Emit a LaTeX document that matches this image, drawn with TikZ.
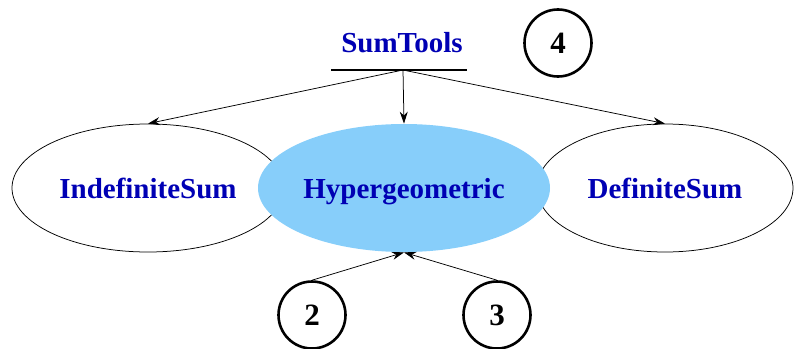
\documentclass[tikz,border=0pt]{standalone}
\usepackage{fontspec}
\setmainfont{Liberation Serif}
\usetikzlibrary{arrows.meta,shapes.geometric}

\definecolor{pkgblue}{RGB}{0,0,180}
\definecolor{hypfill}{RGB}{135,206,250}

\tikzset{every picture/.style={line width=0.75pt}}
\tikzset{
  pkg/.style={ellipse,inner sep=0pt,minimum height=128pt,text height=20pt,text depth=0pt,text=pkgblue,font=\fontsize{29}{34}\selectfont\bfseries},
  num/.style={circle,draw,line width=2.6pt,inner sep=0pt,minimum size=67pt,font=\fontsize{31}{36}\selectfont\bfseries},
  dep/.style={-{Stealth[length=12pt,width=8pt]}}
}

\begin{document}
\begin{tikzpicture}[x=1pt,y=1pt,yscale=-1,xscale=1]
\useasboundingbox (0,0) rectangle (795,348);

%Shape: Ellipse left
\node [pkg,draw,minimum width=272pt] (indef) at (148,188) {IndefiniteSum};
%Shape: Ellipse right
\node [pkg,draw,minimum width=256pt] (defsum) at (665,188) {DefiniteSum};
%Shape: Ellipse middle
\node [pkg,fill=hypfill,minimum width=292pt] (hyper) at (404,188) {Hypergeometric};

% Text Node
\node [text=pkgblue,font=\fontsize{29}{34}\selectfont\bfseries,anchor=base] (sumtools) at (402,52) {SumTools};
\coordinate (fork) at (403,70);
\draw [line width=1.5pt] ([xshift=-72pt]fork) -- ([xshift=64pt]fork);

%Straight Lines
\draw [dep] (fork) -- (indef.north);
\draw [dep] (fork) -- (hyper.north);
\draw [dep] (fork) -- (defsum.north);

%Shape: Circle
\node [num] (four) at (558,43) {4};
\node [num] (two) at (312,315) {2};
\node [num] (three) at (497,315) {3};

%Straight Lines
\draw [dep] (two.north) -- (hyper.south);
\draw [dep] (three.north) -- (hyper.south);

\end{tikzpicture}
\end{document}
